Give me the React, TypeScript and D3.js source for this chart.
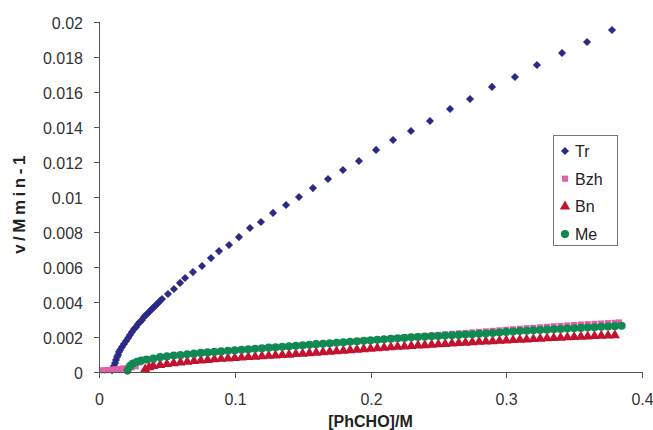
import React from 'react';
import * as d3 from 'd3';

// [PhCHO] (M), v (M/min)
const trData: [number, number][] = [
  [0.0096, 0.0001], [0.0103, 0.00017], [0.011, 0.00034], [0.0118, 0.00051], [0.0125, 0.00069],
  [0.0133, 0.00086], [0.014, 0.00097], [0.0147, 0.00114], [0.0155, 0.00126], [0.0169, 0.00143],
  [0.0184, 0.0016], [0.0199, 0.00177], [0.0214, 0.00194], [0.0228, 0.00211], [0.0243, 0.00229],
  [0.0258, 0.00246], [0.0273, 0.00257], [0.0287, 0.00274], [0.0302, 0.00286], [0.0317, 0.00297],
  [0.0331, 0.00314], [0.0346, 0.00326], [0.0361, 0.00337], [0.0376, 0.00349], [0.039, 0.0036],
  [0.0405, 0.00371], [0.042, 0.00383], [0.0435, 0.00394], [0.0449, 0.00406], [0.0464, 0.00417],
  [0.0508, 0.00446], [0.0552, 0.00474], [0.0597, 0.00509], [0.0634, 0.00537], [0.0692, 0.00571],
  [0.0759, 0.00606], [0.0825, 0.00651], [0.0884, 0.00691], [0.0958, 0.00726], [0.1031, 0.00771],
  [0.1112, 0.00823], [0.1193, 0.00857], [0.1282, 0.00909], [0.1378, 0.00954], [0.1473, 0.01],
  [0.1576, 0.01051], [0.1687, 0.01103], [0.1797, 0.01154], [0.1915, 0.01206], [0.2041, 0.01269],
  [0.2166, 0.01326], [0.2298, 0.01377], [0.2438, 0.01434], [0.2586, 0.01503], [0.2733, 0.0156],
  [0.2895, 0.01629], [0.3064, 0.01686], [0.3226, 0.01754], [0.3411, 0.01823], [0.3595, 0.01886],
  [0.3779, 0.01954]
];

const bzhData: [number, number][] = [
  [0.003, 0.0001], [0.006, 0.00011], [0.009, 0.00013], [0.012, 0.00015], [0.015, 0.00017],
  [0.018, 0.0002], [0.021, 0.00023], [0.024, 0.00027], [0.027, 0.00033], [0.03, 0.00055],
  [0.04, 0.00072], [0.05, 0.00086], [0.06, 0.00094], [0.07, 0.00102], [0.08, 0.0011],
  [0.09, 0.00116], [0.1, 0.00122], [0.11, 0.00128], [0.12, 0.00134], [0.13, 0.00139],
  [0.14, 0.00145], [0.15, 0.00151], [0.16, 0.00157], [0.17, 0.00163], [0.18, 0.00169],
  [0.19, 0.00175], [0.2, 0.00181], [0.205, 0.00184], [0.21, 0.00188], [0.215, 0.00191],
  [0.22, 0.00194], [0.225, 0.00197], [0.23, 0.002], [0.235, 0.00203], [0.24, 0.00206],
  [0.245, 0.00209], [0.25, 0.00212], [0.255, 0.00215], [0.26, 0.00218], [0.265, 0.0022],
  [0.27, 0.00223], [0.275, 0.00226], [0.28, 0.00229], [0.285, 0.00232], [0.29, 0.00235],
  [0.295, 0.00238], [0.3, 0.00241], [0.305, 0.00244], [0.31, 0.00247], [0.315, 0.0025],
  [0.32, 0.00252], [0.325, 0.00255], [0.33, 0.00258], [0.335, 0.00261], [0.34, 0.00263],
  [0.345, 0.00266], [0.35, 0.00268], [0.355, 0.00271], [0.36, 0.00273], [0.365, 0.00275],
  [0.37, 0.00277], [0.375, 0.00279], [0.38, 0.00281], [0.383, 0.00283]
];

const bnData: [number, number][] = [
  [0.034, 0.00015], [0.037, 0.00027], [0.04, 0.00034], [0.045, 0.0004], [0.05, 0.00045],
  [0.055, 0.0005], [0.06, 0.00054], [0.065, 0.00058], [0.07, 0.00062], [0.075, 0.00065],
  [0.08, 0.00069], [0.085, 0.00072], [0.09, 0.00075], [0.095, 0.00077], [0.1, 0.0008],
  [0.105, 0.00082], [0.11, 0.00085], [0.115, 0.00087], [0.12, 0.0009], [0.125, 0.00092],
  [0.13, 0.00094], [0.135, 0.00097], [0.14, 0.00099], [0.145, 0.00102], [0.15, 0.00104],
  [0.155, 0.00107], [0.16, 0.0011], [0.165, 0.00113], [0.17, 0.00116], [0.175, 0.00119],
  [0.18, 0.00121], [0.185, 0.00124], [0.19, 0.00127], [0.195, 0.0013], [0.2, 0.00133],
  [0.205, 0.00136], [0.21, 0.00139], [0.215, 0.00141], [0.22, 0.00144], [0.225, 0.00146],
  [0.23, 0.00149], [0.235, 0.00151], [0.24, 0.00153], [0.245, 0.00156], [0.25, 0.00158],
  [0.255, 0.0016], [0.26, 0.00163], [0.265, 0.00165], [0.27, 0.00167], [0.275, 0.0017],
  [0.28, 0.00172], [0.285, 0.00174], [0.29, 0.00176], [0.295, 0.00178], [0.3, 0.0018],
  [0.305, 0.00182], [0.31, 0.00184], [0.315, 0.00186], [0.32, 0.00188], [0.325, 0.0019],
  [0.33, 0.00192], [0.335, 0.00194], [0.34, 0.00196], [0.345, 0.00198], [0.35, 0.002],
  [0.355, 0.00201], [0.36, 0.00203], [0.365, 0.00205], [0.37, 0.00207], [0.375, 0.00208],
  [0.38, 0.0021]
];

const meData: [number, number][] = [
  [0.021, 0.00008], [0.023, 0.00035], [0.025, 0.00048], [0.028, 0.00058], [0.031, 0.00065],
  [0.035, 0.00071], [0.04, 0.00077], [0.045, 0.00085], [0.05, 0.0009], [0.055, 0.00094],
  [0.06, 0.00097], [0.065, 0.00101], [0.07, 0.00105], [0.075, 0.00109], [0.08, 0.00112],
  [0.085, 0.00115], [0.09, 0.00118], [0.095, 0.00121], [0.1, 0.00124], [0.105, 0.00127],
  [0.11, 0.0013], [0.115, 0.00133], [0.12, 0.00136], [0.125, 0.00139], [0.13, 0.00141],
  [0.135, 0.00144], [0.14, 0.00147], [0.145, 0.0015], [0.15, 0.00153], [0.155, 0.00156],
  [0.16, 0.00159], [0.165, 0.00161], [0.17, 0.00164], [0.175, 0.00167], [0.18, 0.0017],
  [0.185, 0.00173], [0.19, 0.00176], [0.195, 0.00178], [0.2, 0.00181], [0.205, 0.00184],
  [0.21, 0.00187], [0.215, 0.0019], [0.22, 0.00193], [0.225, 0.00195], [0.23, 0.00198],
  [0.235, 0.002], [0.24, 0.00202], [0.245, 0.00204], [0.25, 0.00206], [0.255, 0.00208],
  [0.26, 0.0021], [0.265, 0.00212], [0.27, 0.00214], [0.275, 0.00216], [0.28, 0.00218],
  [0.285, 0.0022], [0.29, 0.00223], [0.295, 0.00226], [0.3, 0.00229], [0.305, 0.00231],
  [0.31, 0.00234], [0.315, 0.00236], [0.32, 0.00238], [0.325, 0.0024], [0.33, 0.00242],
  [0.335, 0.00244], [0.34, 0.00246], [0.345, 0.00248], [0.35, 0.0025], [0.355, 0.00252],
  [0.36, 0.00254], [0.365, 0.00256], [0.37, 0.00258], [0.375, 0.0026], [0.38, 0.00262],
  [0.385, 0.00264]
];

const xTicks = [0, 0.1, 0.2, 0.3, 0.4];
const yTicks = [0, 0.002, 0.004, 0.006, 0.008, 0.01, 0.012, 0.014, 0.016, 0.018, 0.02];
const seriesNames = ['Tr', 'Bzh', 'Bn', 'Me'];
const seriesColors = ['#2b2a86', '#e062a6', '#c3122f', '#0f8a52'];

const W = 653;
const H = 430;
const margin = { top: 22, right: 11, bottom: 58, left: 99 };
const innerWidth = W - margin.left - margin.right;
const innerHeight = H - margin.top - margin.bottom;
const font = '"Liberation Sans", Arial, sans-serif';

const symbols = [d3.symbolDiamond2, d3.symbolSquare, d3.symbolTriangle, d3.symbolCircle];
const symbolSizes = [42, 38, 46, 52];

const App = () => {
  const xScale = d3.scaleLinear().domain([0, 0.4]).range([0, innerWidth]);
  const yScale = d3.scaleLinear().domain([0, 0.02]).range([innerHeight, 0]);

  const shapes = symbols.map((s, i) => d3.symbol().type(s).size(symbolSizes[i])()!);
  const allData = [trData, bzhData, bnData, meData];

  return (
    <svg
      width={W}
      height={H}
      style={{ position: 'absolute', left: 0, top: 0, background: '#fff', fontFamily: font }}
    >
      <g transform={`translate(${margin.left}, ${margin.top})`}>
        {/* series, drawn in order so Me ends up on top */}
        {allData.map((data, si) => (
          <g key={seriesNames[si]} fill={seriesColors[si]}>
            {data.map(([x, y], i) => (
              <path key={i} d={shapes[si]} transform={`translate(${xScale(x)}, ${yScale(y)})`} />
            ))}
          </g>
        ))}

        {/* axes */}
        <line x1={0} y1={innerHeight + 0.5} x2={innerWidth} y2={innerHeight + 0.5} stroke="#555" />
        <line x1={0.5} y1={0} x2={0.5} y2={innerHeight} stroke="#555" />

        {xTicks.map(t => (
          <g key={`x-${t}`} transform={`translate(${Math.round(xScale(t)) + 0.5}, ${innerHeight})`}>
            <line y1={0} y2={6} stroke="#555" />
            <text y={33} textAnchor="middle" fill="#333" style={{ fontSize: '16px' }}>
              {t}
            </text>
          </g>
        ))}

        {yTicks.map(t => (
          <g key={`y-${t}`} transform={`translate(0, ${Math.round(yScale(t)) + 0.5})`}>
            <line x1={-5} x2={0} stroke="#555" />
            <text x={-16} y={6} textAnchor="end" fill="#333" style={{ fontSize: '16px' }}>
              {t}
            </text>
          </g>
        ))}

        <text
          x={xScale(0.2)}
          y={innerHeight + 55}
          textAnchor="middle"
          fill="#222"
          style={{ fontSize: '16px', fontWeight: 'bold' }}
        >
          [PhCHO]/M
        </text>
        <text
          transform={`translate(-74, 181) rotate(-90)`}
          textAnchor="middle"
          fill="#222"
          style={{ fontSize: '17px', fontWeight: 'bold', letterSpacing: '3.5px' }}
        >
          v/Mmin-1
        </text>
      </g>

      {/* legend */}
      <g transform="translate(553, 135)">
        <rect x={0.5} y={0.5} width={64} height={110} fill="#fff" stroke="#777" />
        {seriesNames.map((name, i) => (
          <g key={name} transform={`translate(0, ${16 + i * 27.7})`}>
            <path d={shapes[i]} transform="translate(12, 0)" fill={seriesColors[i]} />
            <text x={22} y={6} fill="#222" style={{ fontSize: '16px' }}>
              {name}
            </text>
          </g>
        ))}
      </g>
    </svg>
  );
};

export default App;
